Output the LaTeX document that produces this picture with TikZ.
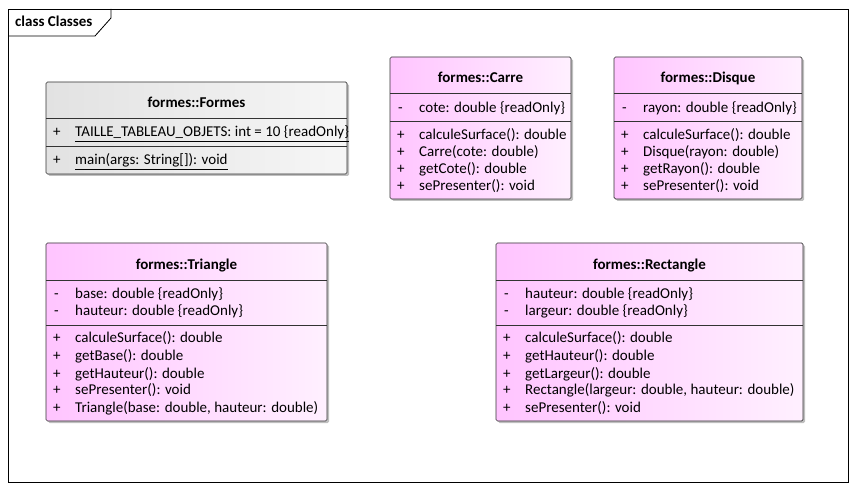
\documentclass[tikz,border=0pt]{standalone}
\usepackage{fontspec}
\setmainfont{Carlito}
\usetikzlibrary{shadows}
\definecolor{pinkL}{HTML}{FFC4FF}
\definecolor{pinkR}{HTML}{FFF0FF}
\definecolor{grayL}{HTML}{E2E2E2}
\definecolor{grayR}{HTML}{F6F6F6}
\begin{document}
\begin{tikzpicture}[x=1pt,y=-1pt,
  txt/.style={anchor=base west,inner sep=0pt,font=\fontsize{15}{17}\selectfont},
  ttl/.style={anchor=base,inner sep=0pt,font=\fontsize{15}{17}\selectfont\bfseries},
  pinkbox/.style={draw=black!80,line width=0.7pt,rounded corners=1.5pt,left color=pinkL,right color=pinkR,
     drop shadow={shadow xshift=2pt,shadow yshift=-2pt,opacity=0.25,fill=black}},
  graybox/.style={draw=black!80,line width=0.7pt,rounded corners=1.5pt,left color=grayL,right color=grayR,
     drop shadow={shadow xshift=2pt,shadow yshift=-2pt,opacity=0.25,fill=black}},
  sep/.style={draw=black!80,line width=0.7pt}]
\useasboundingbox (0,0) rectangle (855,489);
\fill[white] (0,0) rectangle (855,489);
% frame
\draw[line width=0.8pt] (8,9) rectangle (848,482);
\draw[line width=0.8pt] (8,36) -- (95,36) -- (111,18) -- (111,9);
\node[txt,font=\fontsize{15}{17}\selectfont\bfseries] (frametitle) at (15,27) {class Classes};

% Formes
\path[graybox] (46,82) rectangle (347,174);
\draw[sep] (46,118) -- (347,118);
\draw[sep] (46,146) -- (347,146);
\node[ttl] (formesT) at (196.5,108) {formes::Formes};
\node[txt] (f1v) at (53,137) {+};
\node[txt] (f1) at (75,137) {\underline{TAILLE\_TABLEAU\_OBJETS: int = 10 \{readOnly\}}};
\node[txt] (f2v) at (53,165) {+};
\node[txt] (f2) at (75,165) {\underline{main(args: String[]): void}};

% Carre
\path[pinkbox] (390,57) rectangle (571,199);
\draw[sep] (390,93) -- (571,93);
\draw[sep] (390,121) -- (571,121);
\node[ttl] (carreT) at (480.5,83) {formes::Carre};
\node[txt] at (398,113) {-};
\node[txt] (c1) at (419,113) {cote: double \{readOnly\}};
\foreach \y/\t in {140/calculeSurface(): double,157/Carre(cote: double),174/getCote(): double,191/sePresenter(): void}{
  \node[txt] at (397,\y) {+};
  \node[txt] at (419,\y) {\t};}

% Disque
\path[pinkbox] (614,57) rectangle (802,199);
\draw[sep] (614,93) -- (802,93);
\draw[sep] (614,121) -- (802,121);
\node[ttl] (disqueT) at (708,83) {formes::Disque};
\node[txt] at (622,113) {-};
\node[txt] (d1) at (643,113) {rayon: double \{readOnly\}};
\foreach \y/\t in {140/calculeSurface(): double,157/Disque(rayon: double),174/getRayon(): double,191/sePresenter(): void}{
  \node[txt] at (621,\y) {+};
  \node[txt] at (643,\y) {\t};}

% Triangle
\path[pinkbox] (46,243) rectangle (327,421);
\draw[sep] (46,280) -- (327,280);
\draw[sep] (46,325) -- (327,325);
\node[ttl] (triT) at (186.5,270) {formes::Triangle};
\foreach \y/\t in {299/base: double \{readOnly\},316/hauteur: double \{readOnly\}}{
  \node[txt] at (54,\y) {-};
  \node[txt] at (75,\y) {\t};}
\foreach \y/\t in {343/calculeSurface(): double,360/getBase(): double,378/getHauteur(): double,395/sePresenter(): void,412/{Triangle(base: double, hauteur: double)}}{
  \node[txt] at (53,\y) {+};
  \node[txt] at (75,\y) {\t};}

% Rectangle
\path[pinkbox] (496,243) rectangle (803,421);
\draw[sep] (496,280) -- (803,280);
\draw[sep] (496,325) -- (803,325);
\node[ttl] (rectT) at (649.5,270) {formes::Rectangle};
\foreach \y/\t in {299/hauteur: double \{readOnly\},316/largeur: double \{readOnly\}}{
  \node[txt] at (504,\y) {-};
  \node[txt] at (525,\y) {\t};}
\foreach \y/\t in {343/calculeSurface(): double,360/getHauteur(): double,378/getLargeur(): double,395/{Rectangle(largeur: double, hauteur: double)},412/sePresenter(): void}{
  \node[txt] at (503,\y) {+};
  \node[txt] at (525,\y) {\t};}
\end{tikzpicture}
\end{document}
